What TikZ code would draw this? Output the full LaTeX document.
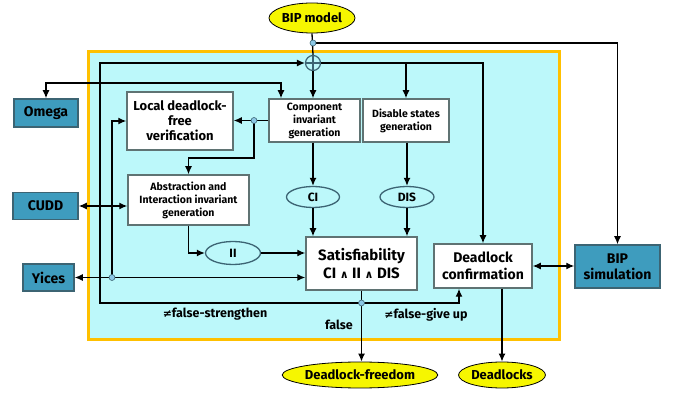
\documentclass[tikz,border=0pt]{standalone}
\usepackage{fontspec}
\setmainfont{Fira Sans}
\newfontfamily\symf{DejaVu Sans}
\usetikzlibrary{arrows.meta,shapes.geometric,calc}
\definecolor{cyanfill}{RGB}{188,248,250}
\definecolor{frameor}{RGB}{255,192,0}
\definecolor{tealbox}{RGB}{62,156,190}
\definecolor{tealedge}{RGB}{60,100,115}
\definecolor{boxedge}{RGB}{95,115,115}
\definecolor{yel}{RGB}{246,246,0}
\definecolor{dotfill}{RGB}{140,200,230}
\tikzset{
  conn/.style={line width=1.3pt,-{Latex[length=8pt,width=7pt]}},
  biconn/.style={line width=1.3pt,{Latex[length=8pt,width=7pt]}-{Latex[length=8pt,width=7pt]}},
  plain/.style={line width=1.3pt},
  wbox/.style={draw=boxedge,line width=1.5pt,fill=white,align=center,font=\bfseries\fontsize{13}{15}\selectfont,inner sep=1pt},
  sbox/.style={wbox,font=\bfseries\fontsize{10.5}{13}\selectfont},
  tbox/.style={draw=tealedge,line width=1.5pt,fill=tealbox,align=center,font=\bfseries\fontsize{14}{16}\selectfont,inner sep=1pt},
  oval/.style={ellipse,draw=tealedge,line width=1.3pt,fill=cyanfill,font=\bfseries\fontsize{12}{14}\selectfont,inner sep=0pt},
  yoval/.style={ellipse,draw=black,line width=0.8pt,fill=yel,font=\bfseries\fontsize{13}{15}\selectfont,inner sep=0pt},
  jdot/.style={circle,draw=tealedge,line width=0.6pt,fill=dotfill,minimum size=6pt,inner sep=0pt},
  lbl/.style={font=\bfseries\fontsize{12.5}{14}\selectfont,inner sep=0pt}
}
\begin{document}
\begin{tikzpicture}[x=1pt,y=-1pt]
\useasboundingbox (0,0) rectangle (675,395);
% frame
\draw[draw=frameor,line width=3pt,fill=cyanfill] (88,52) rectangle (559,340);
% nodes
\node[yoval,minimum width=86pt,minimum height=30pt] (bipmodel) at (312,18) {BIP model};
\node[tbox,minimum width=64pt,minimum height=28pt] (omega) at (46,113) {Omega};
\node[tbox,minimum width=65pt,minimum height=27pt] (cudd) at (45.5,206) {CUDD};
\node[tbox,minimum width=51pt,minimum height=27pt] (yices) at (48.5,277.5) {Yices};
\node[wbox,minimum width=106pt,minimum height=58pt] (local) at (180,121) {Local deadlock-\\free\\verification};
\node[sbox,minimum width=91pt,minimum height=43pt] (comp) at (314.5,120.5) {Component\\invariant\\generation};
\node[sbox,minimum width=86pt,minimum height=43pt] (disgen) at (406,120.5) {Disable states\\generation};
\node[sbox,minimum width=121pt,minimum height=50pt] (abs) at (188.5,200) {Abstraction and\\Interaction invariant\\generation};
\node[oval,minimum width=53pt,minimum height=21pt] (ci) at (313,197) {CI};
\node[oval,minimum width=54pt,minimum height=21pt] (dise) at (407,197) {DIS};
\node[oval,minimum width=55pt,minimum height=23pt] (ii) at (233,253) {II};
\node[wbox,minimum width=111pt,minimum height=53pt,font=\bfseries\fontsize{15}{18}\selectfont] (sat) at (361.5,263.5) {Satisfiability\\CI {\symf\fontsize{11}{12}\selectfont ∧} II {\symf\fontsize{11}{12}\selectfont ∧} DIS};
\node[wbox,minimum width=98pt,minimum height=44pt,font=\bfseries\fontsize{14}{17}\selectfont] (dconf) at (483,266) {Deadlock\\confirmation};
\node[tbox,minimum width=85pt,minimum height=43pt] (bipsim) at (617.5,266.5) {BIP\\simulation};
\node[yoval,minimum width=135pt,minimum height=26pt] (dfree) at (360,375) {Deadlock-freedom};
\node[yoval,minimum width=85pt,minimum height=26pt] (dlocks) at (502,375) {Deadlocks};
\node[circle,draw=tealedge,line width=1.2pt,minimum size=15pt,inner sep=0pt] (oplus) at (313,63) {};
\draw[tealedge,line width=1.2pt] (oplus.north) -- (oplus.south) (oplus.west) -- (oplus.east);
% junction coordinates
\coordinate (j1c) at (313,43);
\coordinate (j2c) at (254,120.5);
\coordinate (j3c) at (112,277.5);
\coordinate (j4c) at (361.5,303);
\coordinate (om) at (281,83);
\coordinate (a1) at (254,158);
\coordinate (lft) at (100,303);
\coordinate (rgt) at (459,303);
% connectors
\draw[plain] (bipmodel.south) -- (oplus.north);
\draw[conn] (oplus.south) -- (oplus.south |- comp.north);
\draw[conn] (j1c) -| (bipsim.north);
\draw[conn] (oplus.east) -| (dconf.north);
\draw[conn] (disgen.north |- oplus.east) -- (disgen.north);
\draw[biconn] (omega.north) |- (om) -- (om |- comp.north);
\draw[conn] (comp.west) -- (comp.west -| local.east);
\draw[conn] (j2c) -- (a1) -| (abs.north);
\draw[biconn] (cudd.east) -- (cudd.east -| abs.west);
\draw[conn] (abs.south) |- (ii.west);
\draw[conn] (ii.east) -- (ii.east -| sat.west);
\draw[biconn] (yices.east) -- (yices.east -| sat.west);
\draw[conn] (j3c) |- (local.west);
\draw[conn] (comp.south -| ci.north) -- (ci.north);
\draw[conn] (ci.south) -- (ci.south |- sat.north);
\draw[conn] (disgen.south -| dise.north) -- (dise.north);
\draw[conn] (dise.south) -- (dise.south |- sat.north);
\draw[conn] (sat.south) -- (sat.south |- dfree.north);
\draw[conn] (j4c) -- (lft) |- (oplus.west);
\draw[conn] (j4c) -- (rgt) -- (rgt |- dconf.south);
\draw[biconn] (dconf.east) -- (dconf.east -| bipsim.west);
\draw[conn] (dlocks.north |- dconf.south) -- (dlocks.north);
% junction dots
\node[jdot] (j1) at (j1c) {};
\node[jdot] (j2) at (j2c) {};
\node[jdot] (j3) at (j3c) {};
\node[jdot] (j4) at (j4c) {};
% labels
\node[lbl] (l1) at (215,314) {{\symf\fontsize{11}{12}\selectfont ≠}false-strengthen};
\node[lbl] (l2) at (426,315) {{\symf\fontsize{11}{12}\selectfont ≠}false-give up};
\node[lbl] (l3) at (339,325) {false};
\end{tikzpicture}
\end{document}
